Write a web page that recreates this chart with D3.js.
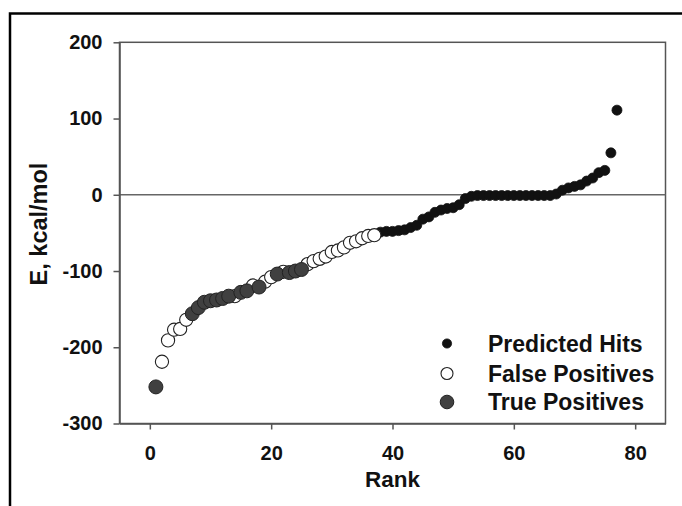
<!DOCTYPE html>
<html>
<head>
<meta charset="utf-8">
<script src="https://cdn.jsdelivr.net/npm/d3@7"></script>
<style>
  html, body { margin: 0; padding: 0; background: #fff; }
  svg { display: block; font-family: Arial, "Liberation Sans", Helvetica, sans-serif; font-weight: bold; }
</style>
</head>
<body>
<svg id="chart" width="682" height="506"></svg>
<script>
// ---- data ----
const ranks = d3.range(1, 78);
const energies = [
  -252, -219, -191, -177, -176, -164, -156, -148, -141, -139,
  -138, -136, -133, -133, -128, -126, -119, -121, -114, -108,
  -104, -101, -102, -100, -98, -91, -87, -84, -81, -75,
  -73, -69, -63, -61, -57, -54, -53, -49, -48, -48,
  -47, -46, -43, -40, -32, -29, -23, -20, -18, -17,
  -13, -5, -2, -1, -1, -1, -1, -1, -1, -1,
  -1, -1, -1, -1, -1, -1, 1, 6, 9, 11,
  13, 18, 22, 29, 32, 55, 111
];
const truePositiveRanks = [1, 7, 8, 9, 10, 11, 12, 13, 15, 16, 18, 21, 23, 24, 25];
const falsePositiveRanks = [2, 3, 4, 5, 6, 14, 17, 19, 20, 22, 26, 27, 28, 29, 30, 31, 32, 33, 34, 35, 36, 37];
const predictedHitRanks = d3.range(38, 78);
const xTicks = [0, 20, 40, 60, 80];
const yTicks = [-300, -200, -100, 0, 100, 200];
const legendLabels = ["Predicted Hits", "False Positives", "True Positives"];
const xTitle = "Rank";
const yTitle = "E, kcal/mol";

// ---- drawing ----
const svg = d3.select("#chart");
const L = 119.5, R = 665.5, T = 42.3, B = 423.5;
const x = d3.scaleLinear().domain([-5, 85]).range([L, R]);
const y = d3.scaleLinear().domain([-300, 200]).range([B, T]);
const val = r => energies[r - 1];

// outer frame (clipped by the image on right/bottom)
svg.append("rect").attr("x", 10).attr("y", 13.5).attr("width", 720).attr("height", 540)
  .attr("fill", "none").attr("stroke", "#000").attr("stroke-width", 2.5);

// plot box
svg.append("rect").attr("x", L).attr("y", T).attr("width", R - L).attr("height", B - T)
  .attr("fill", "none").attr("stroke", "#555").attr("stroke-width", 1.5);

// zero line
svg.append("line").attr("x1", L).attr("x2", R).attr("y1", y(0)).attr("y2", y(0))
  .attr("stroke", "#666").attr("stroke-width", 1.5);

// axes
const fmt = d => String(d);
const gx = svg.append("g").attr("transform", `translate(0,${B})`)
  .call(d3.axisBottom(x).tickValues(xTicks).tickFormat(fmt).tickSize(6).tickPadding(16).tickSizeOuter(0));
const gy = svg.append("g").attr("transform", `translate(${L},0)`)
  .call(d3.axisLeft(y).tickValues(yTicks).tickFormat(fmt).tickSize(6).tickPadding(11).tickSizeOuter(0));
[gx, gy].forEach(g => {
  g.select(".domain").attr("stroke", "#555").attr("stroke-width", 1.5);
  g.selectAll(".tick line").attr("stroke", "#555").attr("stroke-width", 1.5);
  g.selectAll(".tick text").attr("font-size", 20).attr("font-weight", "bold")
    .attr("font-family", "Arial, 'Liberation Sans', sans-serif").attr("fill", "#111");
});

// titles
svg.append("text").attr("x", (L + R) / 2).attr("y", 487).attr("text-anchor", "middle")
  .attr("font-size", 22.5).attr("fill", "#111").text(xTitle);
svg.append("text").attr("transform", `translate(47,224) rotate(-90)`).attr("text-anchor", "middle")
  .attr("font-size", 23.5).attr("fill", "#111").text(yTitle);

// points
svg.append("g").selectAll("circle").data(predictedHitRanks).join("circle")
  .attr("cx", d => x(d)).attr("cy", d => y(val(d))).attr("r", 5)
  .attr("fill", "#111").attr("stroke", "#111").attr("stroke-width", 0.8);
svg.append("g").selectAll("circle").data(falsePositiveRanks).join("circle")
  .attr("cx", d => x(d)).attr("cy", d => y(val(d))).attr("r", 6.6)
  .attr("fill", "#fff").attr("stroke", "#222").attr("stroke-width", 1.1);
svg.append("g").selectAll("circle").data(truePositiveRanks).join("circle")
  .attr("cx", d => x(d)).attr("cy", d => y(val(d))).attr("r", 7)
  .attr("fill", "#404040").attr("stroke", "#222").attr("stroke-width", 1);

// legend
const lg = svg.append("g");
const legY = [343.5, 373.5, 402];
const legStyle = [
  { r: 4.6, fill: "#111", stroke: "#111", sw: 0.8 },
  { r: 6, fill: "#fff", stroke: "#222", sw: 1.1 },
  { r: 6.8, fill: "#404040", stroke: "#222", sw: 1 }
];
legendLabels.forEach((lab, i) => {
  lg.append("circle").attr("cx", 447).attr("cy", legY[i]).attr("r", legStyle[i].r)
    .attr("fill", legStyle[i].fill).attr("stroke", legStyle[i].stroke).attr("stroke-width", legStyle[i].sw);
  lg.append("text").attr("x", 488).attr("y", legY[i] + 8).attr("font-size", 23)
    .attr("fill", "#111").text(lab);
});
</script>
</body>
</html>
